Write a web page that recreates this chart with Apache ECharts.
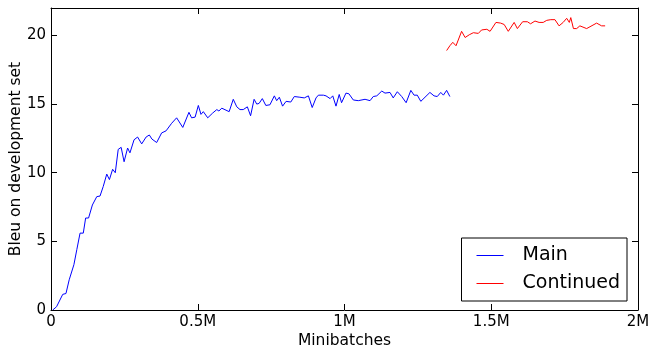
<!DOCTYPE html>
<html>
<head>
<meta charset="utf-8">
<script src="https://cdn.jsdelivr.net/npm/echarts@6/dist/echarts.min.js"></script>
<style>html,body{margin:0;padding:0;background:#fff}#c{width:649px;height:347px}</style>
</head>
<body>
<div id="c"></div>
<script>
// x values in millions of minibatches
const mainX = [0.006,0.019,0.040,0.051,0.062,0.078,0.088,0.099,0.110,0.118,0.128,0.141,0.156,0.167,0.178,0.190,0.199,0.210,0.219,0.229,0.239,0.249,0.261,0.269,0.283,0.295,0.309,0.324,0.335,0.344,0.360,0.377,0.392,0.411,0.417,0.428,0.449,0.470,0.479,0.491,0.502,0.511,0.519,0.534,0.551,0.565,0.572,0.582,0.607,0.621,0.633,0.644,0.655,0.669,0.680,0.692,0.701,0.709,0.720,0.732,0.746,0.761,0.769,0.778,0.789,0.801,0.817,0.829,0.848,0.863,0.877,0.890,0.903,0.911,0.928,0.937,0.951,0.960,0.971,0.982,0.990,1.005,1.015,1.030,1.047,1.070,1.087,1.098,1.110,1.127,1.138,1.155,1.166,1.180,1.195,1.210,1.226,1.237,1.248,1.260,1.291,1.305,1.316,1.328,1.337,1.348,1.359];
const mainY = [0,0.24,1.14,1.2,2.2,3.3,4.4,5.6,5.6,6.7,6.7,7.65,8.26,8.3,9.0,9.9,9.5,10.25,10.0,11.7,11.85,10.8,11.8,11.45,12.4,12.6,12.1,12.6,12.75,12.45,12.2,12.9,13.05,13.6,13.5,14.0,13.3,14.4,14.0,14.05,14.9,14.25,14.45,14.0,14.35,14.6,14.5,14.7,14.45,15.35,14.8,14.6,14.6,14.8,14.15,15.35,15.0,15.05,15.4,14.9,14.95,15.6,15.25,15.5,14.85,15.2,15.15,15.55,15.5,15.45,15.6,14.75,15.45,15.65,15.65,15.6,15.4,15.6,14.85,15.7,15.1,15.8,15.75,15.3,15.25,15.35,15.25,15.55,15.6,15.95,15.8,15.85,15.45,15.9,15.55,15.1,16.0,15.65,15.65,15.2,15.85,15.6,15.55,15.85,15.65,16.0,15.55];
const contX = [1.348,1.359,1.369,1.380,1.399,1.411,1.425,1.439,1.456,1.467,1.485,1.496,1.516,1.532,1.544,1.558,1.578,1.589,1.607,1.623,1.634,1.649,1.663,1.677,1.689,1.703,1.717,1.731,1.745,1.757,1.766,1.771,1.780,1.791,1.802,1.825,1.859,1.876,1.888];
const contY = [18.9,19.25,19.5,19.25,20.3,19.85,20.05,20.2,20.15,20.4,20.45,20.3,20.95,20.9,20.8,20.3,20.95,20.5,21.0,21.0,20.85,21.05,20.95,20.95,21.1,21.15,21.15,20.7,20.95,21.25,20.95,21.3,20.5,20.5,20.7,20.5,20.9,20.7,20.7];
const xTicks = [0, 0.5, 1, 1.5, 2];
const yTicks = [0, 5, 10, 15, 20];
const seriesNames = ['Main', 'Continued'];
const seriesColors = ['#0000ff', '#ff0000'];

const font = 'DejaVu Sans';
const chart = echarts.init(document.getElementById('c'), null, {renderer: 'canvas'});
const zip = (a, b) => a.map((v, i) => [v, b[i]]);
const tickInside = {show: true, inside: true, length: 6, lineStyle: {color: '#000', width: 1}};
const axisLine = {show: true, onZero: false, lineStyle: {color: '#000', width: 1}};

const rich = {
  g: {width: 19, height: 21},
  t: {fontFamily: font, fontSize: 19, color: '#000', lineHeight: 21, height: 21, verticalAlign: 'middle'}
};
seriesNames.forEach((n, i) => {
  rich['l' + i] = {width: 27, height: 1, backgroundColor: seriesColors[i], verticalAlign: 'middle'};
});

chart.setOption({
  animation: false,
  grid: {left: 51, right: 11, top: 8, bottom: 37, containLabel: false, outerBoundsMode: 'none'},
  xAxis: [{
    type: 'value', min: xTicks[0], max: xTicks[xTicks.length - 1], interval: 0.5,
    name: 'Minibatches', nameLocation: 'middle', nameGap: 23, nameMoveOverlap: false,
    nameTextStyle: {fontFamily: font, fontSize: 15.5, color: '#000'},
    axisLine, axisTick: tickInside, splitLine: {show: false},
    axisLabel: {fontFamily: font, fontSize: 15, color: '#000', margin: 5,
      formatter: v => v === 0 ? '0' : v + 'M'}
  }, {
    type: 'value', position: 'top', min: 0, max: 2, interval: 0.5,
    axisLine, axisTick: tickInside, splitLine: {show: false}, axisLabel: {show: false}
  }],
  yAxis: [{
    type: 'value', min: 0, max: 22, interval: 5,
    name: 'Bleu on development set', nameLocation: 'middle', nameGap: 27, nameMoveOverlap: false,
    nameTextStyle: {fontFamily: font, fontSize: 15.5, color: '#000'},
    axisLine, axisTick: tickInside, splitLine: {show: false},
    axisLabel: {fontFamily: font, fontSize: 15, color: '#000', margin: 5,
      formatter: v => yTicks.includes(v) ? String(v) : ''}
  }, {
    type: 'value', position: 'right', min: 0, max: 22, interval: 5,
    axisLine, axisTick: tickInside, splitLine: {show: false}, axisLabel: {show: false}
  }],
  legend: {
    orient: 'vertical', right: 22, bottom: 46,
    data: seriesNames,
    icon: 'rect',
    itemWidth: 1, itemHeight: 14, itemGap: 7,
    padding: [7, 7, 7, 9],
    itemStyle: {opacity: 0},
    lineStyle: {opacity: 0},
    borderColor: '#000', borderWidth: 1, borderRadius: 0, backgroundColor: '#fff',
    formatter: name => '{l' + seriesNames.indexOf(name) + '|}{g|}{t|' + name + '}',
    textStyle: {fontFamily: font, fontSize: 19, color: '#000', lineHeight: 21, rich}
  },
  series: [{
    name: seriesNames[0], type: 'line', data: zip(mainX, mainY), showSymbol: false, symbol: 'none',
    color: seriesColors[0],
    lineStyle: {color: seriesColors[0], width: 1}, itemStyle: {color: seriesColors[0]}
  }, {
    name: seriesNames[1], type: 'line', data: zip(contX, contY), showSymbol: false, symbol: 'none',
    color: seriesColors[1],
    lineStyle: {color: seriesColors[1], width: 1}, itemStyle: {color: seriesColors[1]}
  }]
});
</script>
</body>
</html>
